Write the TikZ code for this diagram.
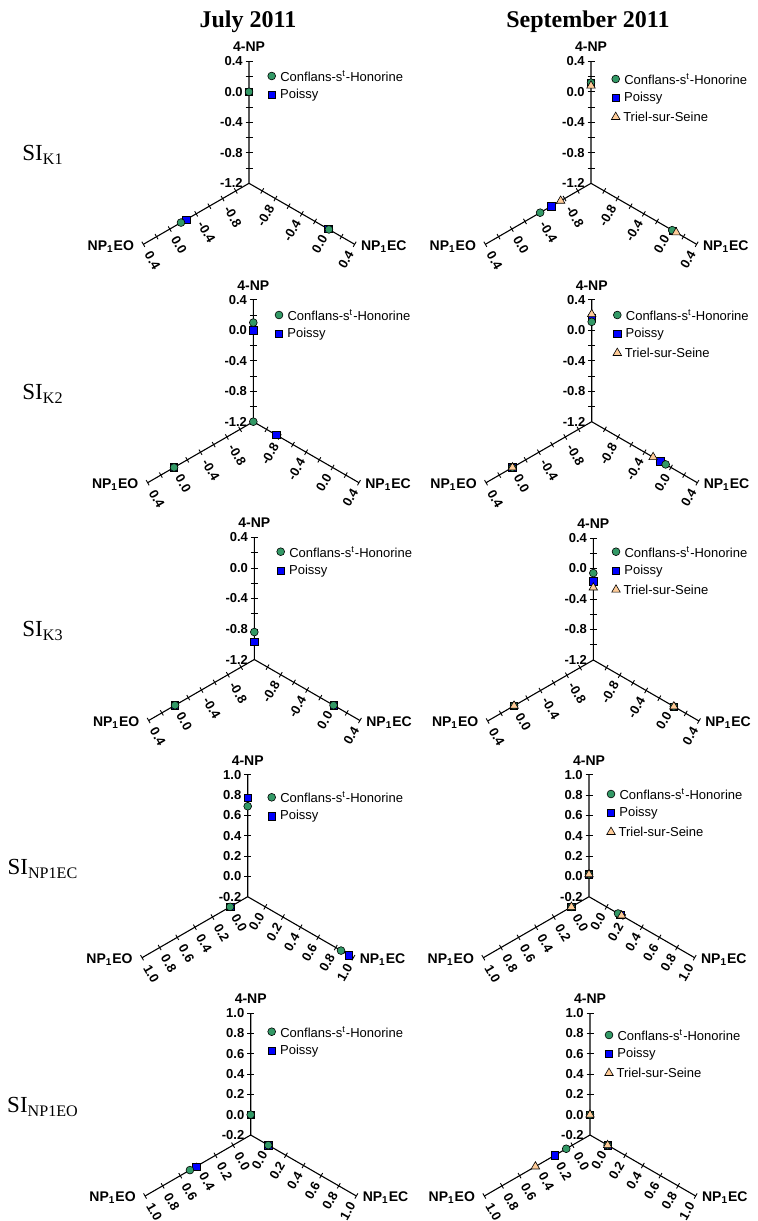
\documentclass[tikz,border=0pt]{standalone}
\usepackage{fontspec}
\setmainfont{Liberation Serif}
\setsansfont{Liberation Sans}
\usetikzlibrary{calc, positioning, shapes.geometric}
\definecolor{confgreen}{RGB}{51,153,102}
\definecolor{trielpeach}{RGB}{255,204,153}
\tikzset{
    x=0.5pt, y=-0.5pt, % one unit is one pixel of the figure, y runs downwards
    axisline/.style={line width=0.55pt, black}, % the three axes of a panel
    axtick/.style={line width=0.45pt, black}, % tick marks
    ticklabel/.style={font=\sffamily\bfseries\fontsize{6.5}{7}\selectfont, inner sep=0.5pt},
    axtitle/.style={font=\sffamily\bfseries\fontsize{7}{8}\selectfont, inner sep=0.5pt},
    keytext/.style={font=\sffamily\fontsize{6.5}{7}\selectfont, inner sep=0.5pt},
    coltitle/.style={font=\bfseries\fontsize{12}{14}\selectfont},
    rowlabel/.style={font=\fontsize{11.5}{13}\selectfont},
    conf/.style={circle, draw=black, line width=0.3pt, fill=confgreen, minimum size=3.9pt, inner sep=0pt}, % Conflans
    poissy/.style={rectangle, draw=black, line width=0.3pt, fill=blue, minimum size=3.7pt, inner sep=0pt}, % Poissy
    triel/.style={regular polygon, regular polygon sides=3, draw=black, line width=0.3pt, fill=trielpeach, minimum size=4.9pt, inner sep=0pt}, % Triel
}

% three axes from one origin: name, x, y, steps, vertical labels, lower labels
\newcommand{\triaxes}[6]{%
  \coordinate (#1-o) at (#2,#3);
  \coordinate (#1-t) at (#2,#3-122);
  \coordinate (#1-l) at (#2-105.66,#3+61);
  \coordinate (#1-r) at (#2+105.66,#3+61);
  \draw[axisline] (#1-t) -- (#1-o) -- (#1-r) (#1-o) -- (#1-l);
  \foreach \i in {1,...,#4} {
    \draw[axtick] ($(#1-o)!\i/#4!(#1-t)$) ++(-3.5,0) -- ++(7,0);
    \draw[axtick] ($(#1-o)!\i/#4!(#1-r)$) ++(1.5,-2.6) -- ++(-3,5.2);
    \draw[axtick] ($(#1-o)!\i/#4!(#1-l)$) ++(-1.5,-2.6) -- ++(3,5.2);
  }
  \foreach \i/\v in {#5}
    \node[ticklabel, anchor=east] (#1-vl\i) at ($(#1-o)!\i/#4!(#1-t)+(-5,0)$) {\v};
  \foreach \i/\v in {#6} {
    \node[ticklabel, anchor=east, rotate=60] (#1-rl\i) at ($(#1-o)!\i/#4!(#1-r)+(-3.5,6)$) {\v};
    \node[ticklabel, anchor=west, rotate=-60] (#1-ll\i) at ($(#1-o)!\i/#4!(#1-l)+(4,7)$) {\v};
  }
  \node[axtitle] (#1-tn) at ($(#1-t)+(0,-14.5)$) {4-NP};
  \node[axtitle, anchor=east] (#1-ln) at ($(#1-l)+(-8,2)$) {NP\textsubscript{1}EO};
  \node[axtitle, anchor=west] (#1-rn) at ($(#1-r)+(5,2)$) {NP\textsubscript{1}EC};
}
\newcommand{\kaxes}[3]{\def\amin{-1.2}\def\arange{1.6}%
  \triaxes{#1}{#2}{#3}{8}{0/-1.2,2/-0.8,4/-0.4,6/0.0,8/0.4}{2/-0.8,4/-0.4,6/0.0,8/0.4}}
\newcommand{\npaxes}[3]{\def\amin{-0.2}\def\arange{1.2}%
  \triaxes{#1}{#2}{#3}{6}{0/-0.2,1/0.0,2/0.2,3/0.4,4/0.6,5/0.8,6/1.0}{1/0.0,2/0.2,3/0.4,4/0.6,5/0.8,6/1.0}}

% one marker: site style, panel, axis (t, l or r), value
\newcommand{\site}[4]{%
  \pgfmathsetmacro\sitefrac{(#4-(\amin))/\arange}%
  \node[#1] (#2-#3-#1) at ($(#2-o)!\sitefrac!(#2-#3)$) {};}

% legend: panel, x, y of first marker, number of sites
\newcommand{\sitekey}[4]{%
  \node[conf] (#1-k1) at (#2,#3) {};
  \node[keytext, right=1.5pt of #1-k1] (#1-kt1) {Conflans-s\textsuperscript{t}-Honorine};
  \node[poissy] (#1-k2) at (#2,#3+19) {};
  \node[keytext, right=1.5pt of #1-k2] (#1-kt2) {Poissy};
  \ifnum#4>2
  \node[triel] (#1-k3) at (#2,#3+38) {};
  \node[keytext, right=1.5pt of #1-k3] (#1-kt3) {Triel-sur-Seine};
  \fi}

\begin{document}
\begin{tikzpicture}
\useasboundingbox (0,0) rectangle (757,1221);

\node[coltitle] (jul) at (248,22) {July 2011};
\node[coltitle] (sep) at (588,22) {September 2011};

\node[rowlabel] (rk1) at (43,155) {SI\textsubscript{K1}};
\node[rowlabel] (rk2) at (43,394) {SI\textsubscript{K2}};
\node[rowlabel] (rk3) at (43,631) {SI\textsubscript{K3}};
\node[rowlabel] (rec) at (43,869) {SI\textsubscript{NP1EC}};
\node[rowlabel] (reo) at (43,1107) {SI\textsubscript{NP1EO}};

% SI K1
\kaxes{k1j}{249}{183.3}
\site{poissy}{k1j}{t}{0.0} \site{conf}{k1j}{t}{0.0}
\site{poissy}{k1j}{l}{-0.25} \site{conf}{k1j}{l}{-0.17}
\site{poissy}{k1j}{r}{0.0} \site{conf}{k1j}{r}{0.01}
\sitekey{k1j}{271.7}{76}{2}

\kaxes{k1s}{591}{183.3}
\site{poissy}{k1s}{t}{0.12} \site{conf}{k1s}{t}{0.12} \site{triel}{k1s}{t}{0.08}
\site{poissy}{k1s}{l}{-0.6} \site{conf}{k1s}{l}{-0.43} \site{triel}{k1s}{l}{-0.74}
\site{poissy}{k1s}{r}{0.04} \site{conf}{k1s}{r}{0.03} \site{triel}{k1s}{r}{0.09}
\sitekey{k1s}{615.7}{79}{3}

% SI K2
\kaxes{k2j}{253.3}{421.7}
\site{poissy}{k2j}{t}{0.0} \site{conf}{k2j}{t}{0.10}
\site{poissy}{k2j}{l}{0.0} \site{conf}{k2j}{l}{0.0}
\site{poissy}{k2j}{r}{-0.85} \site{conf}{k2j}{r}{-1.2}
\sitekey{k2j}{279}{315}{2}

\kaxes{k2s}{591.7}{421.7}
\site{poissy}{k2s}{t}{0.16} \site{conf}{k2s}{t}{0.11} \site{triel}{k2s}{t}{0.21}
\site{poissy}{k2s}{l}{0.0} \site{conf}{k2s}{l}{0.0} \site{triel}{k2s}{l}{0.0}
\site{poissy}{k2s}{r}{-0.16} \site{conf}{k2s}{r}{-0.08} \site{triel}{k2s}{r}{-0.27}
\sitekey{k2s}{617.3}{315}{3}

% SI K3
\kaxes{k3j}{254.3}{659.5}
\site{poissy}{k3j}{t}{-0.97} \site{conf}{k3j}{t}{-0.84}
\site{poissy}{k3j}{l}{0.0} \site{conf}{k3j}{l}{0.0}
\site{poissy}{k3j}{r}{0.0} \site{conf}{k3j}{r}{0.0}
\sitekey{k3j}{280.7}{551.7}{2}

\kaxes{k3s}{593.3}{660}
\site{poissy}{k3s}{t}{-0.17} \site{conf}{k3s}{t}{-0.06} \site{triel}{k3s}{t}{-0.25}
\site{poissy}{k3s}{l}{0.0} \site{conf}{k3s}{l}{0.0} \site{triel}{k3s}{l}{0.0}
\site{poissy}{k3s}{r}{0.02} \site{conf}{k3s}{r}{0.02} \site{triel}{k3s}{r}{0.02}
\sitekey{k3s}{616}{551.7}{3}

% SI NP1EC
\npaxes{ecj}{247.7}{896.7}
\site{poissy}{ecj}{t}{0.77} \site{conf}{ecj}{t}{0.69}
\site{poissy}{ecj}{l}{0.0} \site{conf}{ecj}{l}{0.0}
\site{poissy}{ecj}{r}{0.95} \site{conf}{ecj}{r}{0.86}
\sitekey{ecj}{271.7}{797.3}{2}

\npaxes{ecs}{589}{896.7}
\site{poissy}{ecs}{t}{0.02} \site{conf}{ecs}{t}{0.02} \site{triel}{ecs}{t}{0.02}
\site{poissy}{ecs}{l}{0.0} \site{conf}{ecs}{l}{0.0} \site{triel}{ecs}{l}{0.0}
\site{poissy}{ecs}{r}{0.155} \site{conf}{ecs}{r}{0.13} \site{triel}{ecs}{r}{0.17}
\sitekey{ecs}{611}{794}{3}

% SI NP1EO
\npaxes{eoj}{250.7}{1135}
\site{poissy}{eoj}{t}{0.0} \site{conf}{eoj}{t}{0.0}
\site{poissy}{eoj}{l}{0.42} \site{conf}{eoj}{l}{0.49}
\site{poissy}{eoj}{r}{0.0} \site{conf}{eoj}{r}{0.0}
\sitekey{eoj}{271.7}{1031.7}{2}

\npaxes{eos}{590}{1135}
\site{poissy}{eos}{t}{0.0} \site{conf}{eos}{t}{0.0} \site{triel}{eos}{t}{0.0}
\site{poissy}{eos}{l}{0.20} \site{conf}{eos}{l}{0.07} \site{triel}{eos}{l}{0.42}
\site{poissy}{eos}{r}{0.0} \site{conf}{eos}{r}{0.0} \site{triel}{eos}{r}{0.0}
\sitekey{eos}{609}{1035}{3}
\end{tikzpicture}
\end{document}
